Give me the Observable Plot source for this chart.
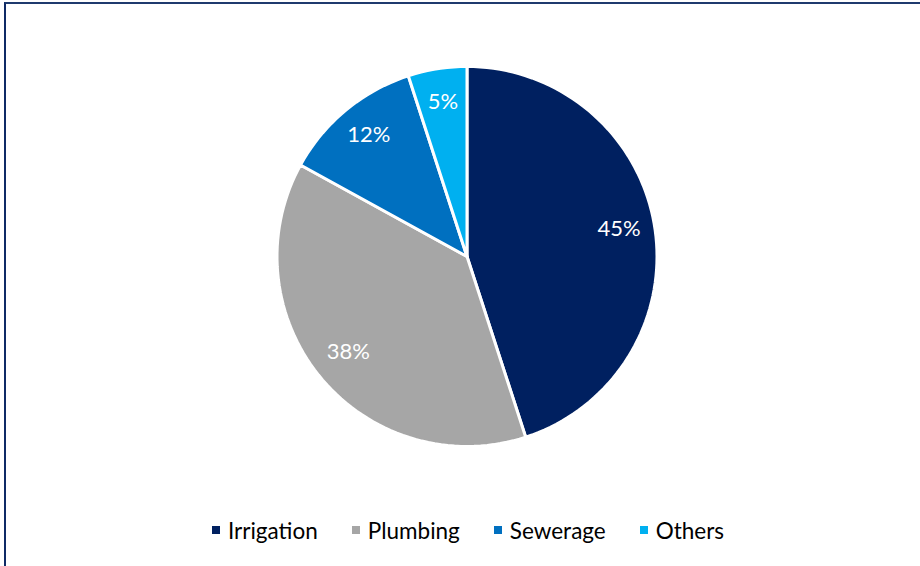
<!DOCTYPE html>
<html>
<head>
<meta charset="utf-8">
<script src="https://cdn.jsdelivr.net/npm/d3@7"></script>
<script src="https://cdn.jsdelivr.net/npm/@observablehq/plot@0.6"></script>
<style>
  html, body { margin: 0; padding: 0; background: #fff; width: 920px; height: 566px; overflow: hidden; }
  #frame { position: absolute; left: 4px; top: 2px; width: 1000px; height: 700px;
           border-top: 2px solid #1f3a6e; border-left: 2px solid #0f2a66; box-sizing: border-box; }
  #chart { position: absolute; left: 0; top: 0; }
  #legend { position: absolute; left: 0; top: 512px; width: 920px; height: 36px; padding-left: 16px; box-sizing: border-box;
            display: flex; justify-content: center; align-items: center;
            font-family: Lato, "Open Sans", sans-serif; font-size: 22.5px; color: #000; }
  .item { display: flex; align-items: center; }
  .sw { width: 8px; height: 8px; margin-right: 8px; }
</style>
</head>
<body>
<div id="frame"></div>
<div id="chart"></div>
<div id="legend"></div>
<script>
const categories = ["Irrigation", "Plumbing", "Sewerage", "Others"];
const shares = [45, 38, 12, 5];
const colors = ["#002060", "#A6A6A6", "#0070C0", "#00B0F0"];

const total = d3.sum(shares);
const steps = 180;
let start = 0;
const slices = categories.map((c, i) => {
  const a0 = start / total * 2 * Math.PI;
  const a1 = (start + shares[i]) / total * 2 * Math.PI;
  start += shares[i];
  const pts = [{x: 0, y: 0}];
  const n = Math.max(2, Math.ceil(steps * (a1 - a0) / (2 * Math.PI)));
  for (let k = 0; k <= n; k++) {
    const a = a0 + (a1 - a0) * k / n;
    pts.push({x: Math.sin(a), y: Math.cos(a)});
  }
  pts.push({x: 0, y: 0});
  const mid = (a0 + a1) / 2;
  return {category: c, share: shares[i], color: colors[i], pts,
          lx: 0.81 * Math.sin(mid), ly: 0.81 * Math.cos(mid)};
});

const W = 920, H = 512;
const cx = 466.5, cy = 256, R = 190;
const chart = Plot.plot({
  width: W, height: H,
  marginLeft: cx - R, marginRight: W - (cx + R),
  marginTop: cy - R, marginBottom: H - (cy + R),
  x: {domain: [-1, 1], axis: null},
  y: {domain: [-1, 1], axis: null},
  style: {background: "transparent", overflow: "visible"},
  marks: [
    ...slices.map(s => Plot.line(s.pts, {x: "x", y: "y", fill: s.color, stroke: "white", strokeWidth: 3, strokeLinejoin: "round"})),
    Plot.text(slices, {x: "lx", y: "ly", text: d => d.share + "%", fill: "white", dy: -3,
      fontSize: 22, fontFamily: "Lato, 'Open Sans', sans-serif"})
  ]
});
document.getElementById("chart").appendChild(chart);

const legend = document.getElementById("legend");
categories.forEach((c, i) => {
  const it = document.createElement("div");
  it.className = "item";
  it.style.marginRight = i < categories.length - 1 ? "34px" : "0";
  const sw = document.createElement("div");
  sw.className = "sw";
  sw.style.background = colors[i];
  const t = document.createElement("span");
  t.textContent = c;
  it.appendChild(sw); it.appendChild(t);
  legend.appendChild(it);
});
</script>
</body>
</html>
